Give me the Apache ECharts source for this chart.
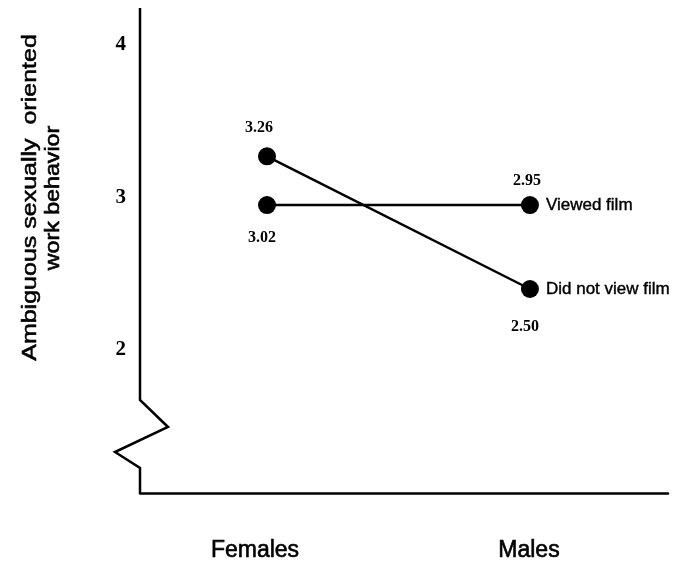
<!DOCTYPE html>
<html>
<head>
<meta charset="utf-8">
<script src="https://cdn.jsdelivr.net/npm/echarts@6/dist/echarts.min.js"></script>
<style>
html,body{margin:0;padding:0;background:#fff;}
#main{width:678px;height:563px;}
</style>
</head>
<body>
<div id="main"></div>
<script>
// ---- data ----
var categories = ['Females', 'Males'];
var viewedValues = [2.95, 2.95];
var viewedLabels = ['3.02', '2.95'];
var notViewedValues = [3.27, 2.40];
var notViewedLabels = ['3.26', '2.50'];
var yTickValues = [2, 3, 4];
var seriesNames = ['Viewed film', 'Did not view film'];
var yTitleLines = ['Ambiguous sexually  oriented', 'work behavior'];

var xMin = -0.483, xMax = 1.525;
var yMin = 1.0623, yMax = 4.2426;

var chart = echarts.init(document.getElementById('main'));

var numFont = { fontFamily: 'Liberation Serif', fontWeight: 'bold', fontSize: 16, color: '#000' };
var sansBold = { textBorderColor: '#000', textBorderWidth: 0.6 };

function labelled(vals, labels, cfg) {
  return vals.map(function (v, i) {
    var c = cfg[i];
    return {
      value: [i, v],
      label: Object.assign({
        show: true,
        formatter: labels[i],
        position: c.pos,
        distance: c.dist,
        offset: [c.dx, 0]
      }, numFont)
    };
  });
}

var catShift = [24, 2]; // right padding in px to nudge each category label left

var option = {
  backgroundColor: '#fff',
  animation: false,
  grid: { left: 140, right: 10, top: 8, bottom: 70 },
  xAxis: {
    type: 'value', min: xMin, max: xMax,
    axisLine: { show: true, onZero: false, lineStyle: { color: '#000', width: 2.5 } },
    axisTick: { show: false },
    splitLine: { show: false },
    axisLabel: {
      customValues: [0, 1],
      formatter: function (v) { var i = Math.round(v); return '{c' + i + '|' + categories[i] + '}'; },
      margin: 46,
      rich: {
        c0: Object.assign({ fontFamily: 'Liberation Sans', fontSize: 23, color: '#000', padding: [0, catShift[0], 0, 0] }, sansBold),
        c1: Object.assign({ fontFamily: 'Liberation Sans', fontSize: 23, color: '#000', padding: [0, catShift[1], 0, 0] }, sansBold)
      }
    }
  },
  yAxis: {
    type: 'value', min: yMin, max: yMax,
    axisLine: { show: false },
    axisTick: { show: false },
    splitLine: { show: false },
    axisLabel: {
      customValues: yTickValues,
      margin: 14,
      fontFamily: 'Liberation Serif', fontWeight: 'bold', fontSize: 21, color: '#000'
    }
  },
  series: [
    {
      name: seriesNames[0], type: 'line',
      data: labelled(viewedValues, viewedLabels, [
        { pos: 'bottom', dist: 16, dx: -5 },
        { pos: 'top', dist: 7, dx: -3 }
      ]),
      symbol: 'circle', symbolSize: 18,
      itemStyle: { color: '#000' },
      lineStyle: { color: '#000', width: 2.5 },
      endLabel: Object.assign({ show: true, formatter: '{a}', distance: 16, fontFamily: 'Liberation Sans', fontSize: 17, color: '#000' }, { textBorderColor: '#000', textBorderWidth: 0.4 })
    },
    {
      name: seriesNames[1], type: 'line',
      data: labelled(notViewedValues, notViewedLabels, [
        { pos: 'top', dist: 11, dx: -8 },
        { pos: 'bottom', dist: 21, dx: -5 }
      ]),
      symbol: 'circle', symbolSize: 18,
      itemStyle: { color: '#000' },
      lineStyle: { color: '#000', width: 2.5 },
      endLabel: Object.assign({ show: true, formatter: '{a}', distance: 16, fontFamily: 'Liberation Sans', fontSize: 17, color: '#000' }, { textBorderColor: '#000', textBorderWidth: 0.4 })
    }
  ]
};
chart.setOption(option);

// y axis line with a zigzag break, positioned from the axis scale
var ax = chart.convertToPixel({ xAxisIndex: 0 }, xMin);
var yTopPx = chart.convertToPixel({ yAxisIndex: 0 }, yMax);
var yBotPx = chart.convertToPixel({ yAxisIndex: 0 }, yMin);
var breakStart = yBotPx - 93;
chart.setOption({
  graphic: [
    {
      type: 'polyline', silent: true,
      shape: { points: [
        [ax, yTopPx], [ax, breakStart], [ax + 28, breakStart + 27],
        [ax - 25, breakStart + 52], [ax, breakStart + 68], [ax, yBotPx]
      ] },
      style: { stroke: '#000', lineWidth: 2.5, fill: null, lineJoin: 'miter' }
    },
    {
      type: 'text', silent: true,
      x: 30, y: 197.5, rotation: Math.PI / 2, scaleX: 1.25,
      style: {
        text: yTitleLines[0], fontFamily: 'Liberation Sans', fontSize: 20,
        fill: '#000', stroke: '#000', lineWidth: 0.5, align: 'center', verticalAlign: 'middle'
      }
    },
    {
      type: 'text', silent: true,
      x: 53, y: 198, rotation: Math.PI / 2, scaleX: 1.16,
      style: {
        text: yTitleLines[1], fontFamily: 'Liberation Sans', fontSize: 20,
        fill: '#000', stroke: '#000', lineWidth: 0.6, align: 'center', verticalAlign: 'middle'
      }
    }
  ]
});
</script>
</body>
</html>
